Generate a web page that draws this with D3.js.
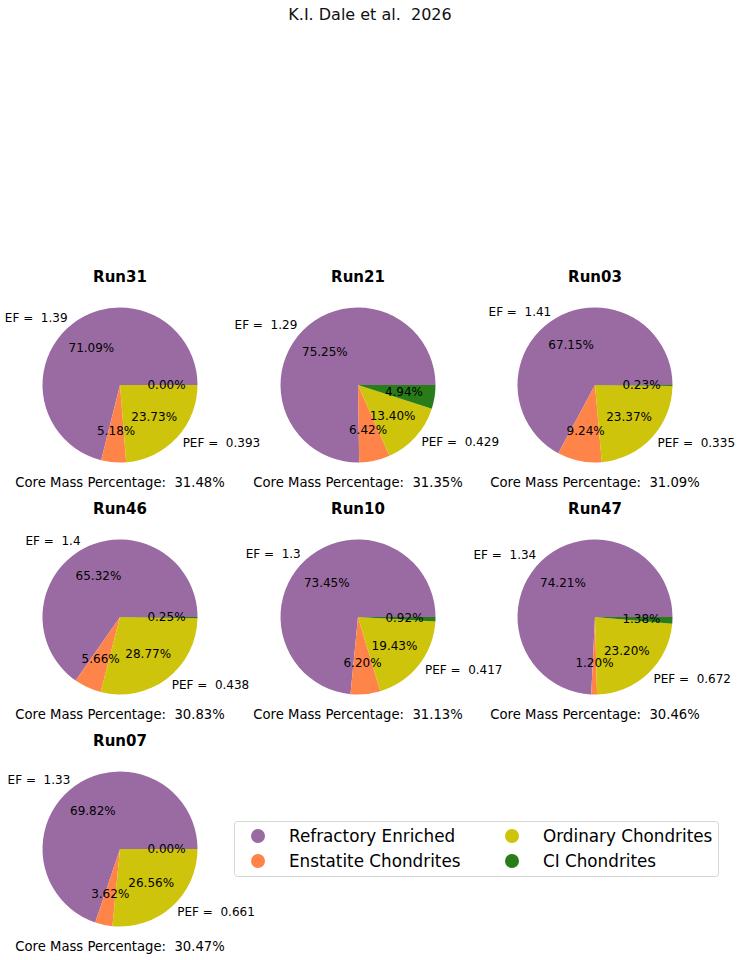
<!DOCTYPE html>
<html>
<head>
<meta charset="utf-8">
<script src="https://cdn.jsdelivr.net/npm/d3@7"></script>
<style>
  html, body { margin: 0; padding: 0; background: #fff; }
  svg { display: block; font-family: "DejaVu Sans", sans-serif; }
  text { white-space: pre; }
</style>
</head>
<body>
<svg id="chart" width="741" height="960"></svg>
<script>
// ---- data ----
const runs       = ["Run31", "Run21", "Run03", "Run46", "Run10", "Run47", "Run07"];
const categories = ["Refractory Enriched", "Enstatite Chondrites", "Ordinary Chondrites", "CI Chondrites"];
const refractory = [71.09, 75.25, 67.15, 65.32, 73.45, 74.21, 69.82];
const enstatite  = [5.18, 6.42, 9.24, 5.66, 6.20, 1.20, 3.62];
const ordinary   = [23.73, 13.40, 23.37, 28.77, 19.43, 23.20, 26.56];
const ciChond    = [0.00, 4.94, 0.23, 0.25, 0.92, 1.38, 0.00];
const efValues   = ["1.39", "1.29", "1.41", "1.4", "1.3", "1.34", "1.33"];
const pefValues  = ["0.393", "0.429", "0.335", "0.438", "0.417", "0.672", "0.661"];
const coreMass   = [31.48, 31.35, 31.09, 30.83, 31.13, 30.46, 30.47];
const figTitle   = "K.I. Dale et al.  2026";

// ---- styles ----
const colors = ["#9a6ba3", "#ff8449", "#cec40b", "#287d18"];
const colorScale = d3.scaleOrdinal().domain(categories).range(colors);

const svg = d3.select("#chart");
const colX = [120, 358, 595];
const rowY = [385, 617, 849];
const R = 77.5;

svg.append("text")
  .attr("x", 370).attr("y", 14)
  .attr("text-anchor", "middle").attr("dominant-baseline", "central")
  .attr("font-size", 16).attr("fill", "#111")
  .text(figTitle);

// matplotlib pie: start at 3 o'clock, counterclockwise
const pie = d3.pie().sort(null).value(d => d.value)
  .startAngle(Math.PI / 2).endAngle(Math.PI / 2 - 2 * Math.PI);
const arc = d3.arc().innerRadius(0).outerRadius(R);

runs.forEach((run, i) => {
  const cx = colX[i % 3], cy = rowY[Math.floor(i / 3)];
  const vals = [refractory[i], enstatite[i], ordinary[i], ciChond[i]];
  const labels = ["EF =  " + efValues[i], "", "PEF =  " + pefValues[i], ""];
  const data = categories.map((c, k) => ({ cat: c, value: vals[k], label: labels[k] }));
  const arcs = pie(data);

  const g = svg.append("g").attr("transform", `translate(${cx},${cy})`);

  g.selectAll("path.slice").data(arcs).join("path")
    .attr("class", "slice")
    .attr("d", d => arc({ ...d, startAngle: Math.max(d.startAngle, d.endAngle), endAngle: Math.min(d.startAngle, d.endAngle) }))
    .attr("fill", d => colorScale(d.data.cat));

  const mid = d => (d.startAngle + d.endAngle) / 2;

  // percentage labels at 0.6 R
  g.selectAll("text.pct").data(arcs).join("text")
    .attr("class", "pct")
    .attr("x", d => 0.6 * R * Math.sin(mid(d)))
    .attr("y", d => -0.6 * R * Math.cos(mid(d)))
    .attr("text-anchor", "middle").attr("dominant-baseline", "central")
    .attr("font-size", 12).attr("fill", "#000")
    .text(d => d.data.value.toFixed(2) + "%");

  // outer labels at 1.1 R
  g.selectAll("text.lbl").data(arcs.filter(d => d.data.label)).join("text")
    .attr("class", "lbl")
    .attr("x", d => 1.1 * R * Math.sin(mid(d)))
    .attr("y", d => -1.1 * R * Math.cos(mid(d)))
    .attr("text-anchor", d => Math.sin(mid(d)) > 0 ? "start" : "end")
    .attr("dominant-baseline", "central")
    .attr("font-size", 12).attr("fill", "#000")
    .text(d => d.data.label);

  g.append("text")
    .attr("x", 0).attr("y", -108)
    .attr("text-anchor", "middle").attr("dominant-baseline", "central")
    .attr("font-size", 15).attr("font-weight", "bold").attr("fill", "#000")
    .text(run);

  g.append("text")
    .attr("x", 0).attr("y", 97)
    .attr("text-anchor", "middle").attr("dominant-baseline", "central")
    .attr("font-size", 13.2).attr("fill", "#000")
    .text("Core Mass Percentage:  " + coreMass[i].toFixed(2) + "%");
});

// legend
const lg = svg.append("g");
lg.append("rect")
  .attr("x", 234.5).attr("y", 821.5).attr("width", 484).attr("height", 55)
  .attr("rx", 3).attr("fill", "#fff").attr("stroke", "#d6d6d6");
const legX = [258, 512], legY = [836, 861];
categories.forEach((c, k) => {
  const col = Math.floor(k / 2), row = k % 2;
  lg.append("circle")
    .attr("cx", legX[col]).attr("cy", legY[row]).attr("r", 7)
    .attr("fill", colorScale(c));
  lg.append("text")
    .attr("x", legX[col] + 31).attr("y", legY[row])
    .attr("dominant-baseline", "central")
    .attr("font-size", 16.8).attr("fill", "#000")
    .text(c);
});
</script>
</body>
</html>
